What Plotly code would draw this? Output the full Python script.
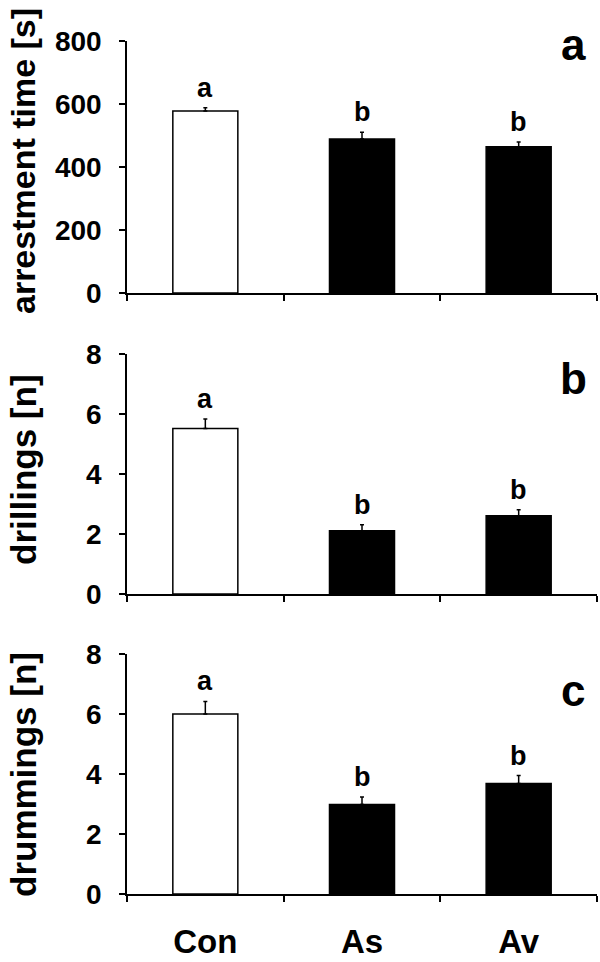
import plotly.graph_objects as go
from plotly.subplots import make_subplots

categories = ["Con", "As", "Av"]
bar_colors = ["white", "black", "black"]

arrest_mean = [578, 489, 464]
arrest_se = [10, 21, 15]
arrest_sig = ["a", "b", "b"]

drill_mean = [5.52, 2.11, 2.61]
drill_se = [0.31, 0.20, 0.20]
drill_sig = ["a", "b", "b"]

drum_mean = [6.0, 2.98, 3.68]
drum_se = [0.42, 0.25, 0.27]
drum_sig = ["a", "b", "b"]

panels = [
    dict(mean=arrest_mean, se=arrest_se, sig=arrest_sig, title="arrestment time [s]",
         label="a", yrange=[0, 800], ticks=[0, 200, 400, 600, 800]),
    dict(mean=drill_mean, se=drill_se, sig=drill_sig, title="drillings [n]",
         label="b", yrange=[0, 8], ticks=[0, 2, 4, 6, 8]),
    dict(mean=drum_mean, se=drum_se, sig=drum_sig, title="drummings [n]",
         label="c", yrange=[0, 8], ticks=[0, 2, 4, 6, 8]),
]

FONT = "Liberation Sans, Arial, sans-serif"

W, H = 600, 962
L, R, T, B = 127, 3, 41, 68
ph = H - T - B
pw = W - L - R

def frac(px):
    return (H - B - px) / ph

domains = [[frac(293), frac(41)], [frac(594), frac(354)], [frac(894), frac(654)]]
title_y_px = [161, 470, 775]
title_sizes = [34, 35, 35]
label_y_px = [44, 378, 690]

fig = make_subplots(rows=3, cols=1)
annotations = []
for i, p in enumerate(panels):
    r = i + 1
    fig.add_trace(go.Bar(
        x=categories, y=p["mean"], width=0.415,
        marker=dict(color=bar_colors, line=dict(color="black", width=1.5)),
        error_y=dict(type="data", array=p["se"], arrayminus=[0] * len(p["se"]),
                     symmetric=False, color="black", thickness=1.5, width=2),
        showlegend=False,
    ), row=r, col=1)
    sfx = "" if r == 1 else str(r)
    fig.update_layout(**{
        "xaxis" + sfx: dict(
            type="category", range=[-0.5, 2.5], tickson="boundaries",
            ticks="outside", ticklen=6, tickwidth=1.5, tickcolor="black",
            showline=True, linecolor="black", linewidth=1.5, showgrid=False,
            showticklabels=(r == 3), ticklabelstandoff=18, automargin=False,
            tickfont=dict(family=FONT, size=33, color="black", weight="bold"),
            domain=[0, 1],
        ),
        "yaxis" + sfx: dict(
            range=p["yrange"], tickvals=p["ticks"], ticks="outside", ticklen=6,
            tickwidth=1.5, tickcolor="black", showline=True, linecolor="black",
            linewidth=1.5, showgrid=False, zeroline=False, automargin=False,
            ticklabelstandoff=12,
            tickfont=dict(family=FONT, size=28, color="black", weight="bold"),
            domain=domains[i],
        ),
    })
    xref = "x" + sfx
    yref = "y" + sfx
    for c, m, s, t in zip(categories, p["mean"], p["se"], p["sig"]):
        annotations.append(dict(
            x=c, y=m + s, xref=xref, yref=yref, text=t, showarrow=False,
            yanchor="bottom", yshift=3,
            font=dict(family=FONT, size=27, color="black", weight="bold"),
        ))
    annotations.append(dict(
        x=(23 - L) / pw, y=frac(title_y_px[i]), xref="paper", yref="paper",
        text=p["title"], textangle=-90, showarrow=False, xanchor="center", yanchor="middle",
        font=dict(family=FONT, size=title_sizes[i], color="black", weight="bold"),
    ))
    annotations.append(dict(
        x=(573 - L) / pw, y=frac(label_y_px[i]), xref="paper", yref="paper",
        text=p["label"], showarrow=False, xanchor="center", yanchor="middle",
        font=dict(family=FONT, size=44, color="black", weight="bold"),
    ))

fig.update_layout(
    width=W, height=H, margin=dict(l=L, r=R, t=T, b=B),
    plot_bgcolor="white", paper_bgcolor="white",
    annotations=annotations, bargap=0.6,
)

fig.write_html("out.html", config={"displayModeBar": False},
               post_script="document.body.style.margin='0';document.body.style.overflow='hidden';")
